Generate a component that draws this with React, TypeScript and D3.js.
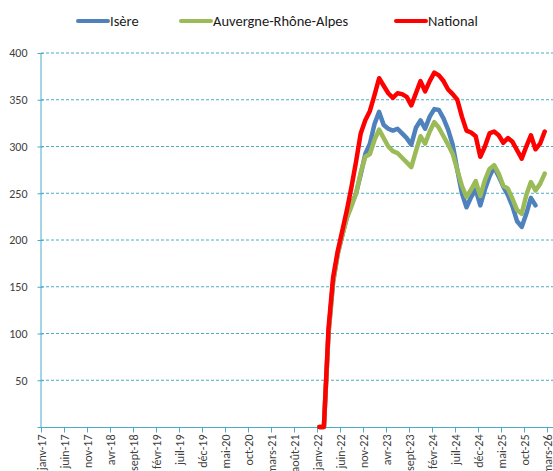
import * as d3 from "d3";
import { useEffect, useRef } from "react";

// tick labels on the x axis, one every 5 months from janv-17
const tickLabels = [
  "janv-17", "juin-17", "nov-17", "avr-18", "sept-18", "févr-19", "juil-19",
  "déc-19", "mai-20", "oct-20", "mars-21", "août-21", "janv-22", "juin-22",
  "nov-22", "avr-23", "sept-23", "févr-24", "juil-24", "déc-24", "mai-25",
  "oct-25", "mars-26",
];
const yTicks = [50, 100, 150, 200, 250, 300, 350, 400];

// series start in janv-22 (month 60 counted from janv-17)
const firstMonth = 60;
const isere = [
  0, 0, 100, 155, 185, 205, 224, 238, 250, 270, 292, 303, 324, 337, 323, 319,
  317, 319, 314, 309, 302, 320, 328, 319, 332, 340, 339, 330, 318, 302, 275,
  250, 235, 246, 254, 237, 254, 268, 278, 268, 257, 248, 236, 220, 214, 228,
  245, 237,
];
const aura = [
  0, 0, 100, 155, 185, 205, 224, 236, 250, 272, 289, 292, 307, 318, 309, 300,
  295, 293, 288, 283, 278, 295, 311, 303, 316, 326, 320, 311, 302, 292, 275,
  258, 246, 254, 263, 247, 264, 276, 280, 271, 258, 255, 244, 232, 228, 248,
  262, 253, 260, 271,
];
const national = [
  0, 0, 105, 160, 188, 210, 232, 257, 284, 314, 328, 338, 355, 373, 365, 357,
  352, 357, 356, 353, 344, 357, 370, 359, 370, 379, 376, 370, 361, 356, 350,
  332, 317, 315, 311, 289, 300, 314, 316, 312, 304, 309, 305, 296, 287, 300,
  312, 297, 303, 316,
];

const series = [
  { name: "Isère", values: isere, color: "#4F81BD" },
  { name: "Auvergne-Rhône-Alpes", values: aura, color: "#9BBB59" },
  { name: "National", values: national, color: "#FF0000" },
];

const W = 553;
const H = 471;

const App = () => {
  const ref = useRef<SVGSVGElement>(null);

  useEffect(() => {
    const svg = d3.select(ref.current);
    svg.selectAll("*").remove();

    const font = "Carlito, Calibri, 'Liberation Sans', sans-serif";
    const teal = "#4BACC6";

    const x = d3.scaleLinear().domain([0, 111]).range([41, 551.6]);
    const y = d3.scaleLinear().domain([0, 400]).range([427, 53]);

    // grid
    svg
      .append("g")
      .selectAll("line")
      .data(yTicks)
      .join("line")
      .attr("x1", 41)
      .attr("x2", W)
      .attr("y1", (d) => y(d))
      .attr("y2", (d) => y(d))
      .attr("stroke", teal)
      .attr("stroke-width", 1)
      .attr("stroke-dasharray", "3 2");

    // y axis
    const yAxis = svg
      .append("g")
      .attr("transform", "translate(40.5,0)")
      .call(
        d3
          .axisLeft(y)
          .tickValues([0, ...yTicks])
          .tickSizeInner(3)
          .tickSizeOuter(0)
          .tickFormat((d) => (d === 0 ? "" : String(d)))
      );
    yAxis.select(".domain").attr("stroke", teal);
    yAxis.selectAll(".tick line").attr("stroke", teal).attr("x2", 3).attr("x1", -3);
    yAxis
      .selectAll(".tick text")
      .attr("x", -13)
      .attr("fill", "#404040")
      .style("font-family", font)
      .style("font-size", "12px");

    // x axis
    const xAxis = svg
      .append("g")
      .attr("transform", "translate(0,427.5)")
      .call(
        d3
          .axisBottom(x)
          .tickValues(tickLabels.map((_, i) => i * 5))
          .tickSizeInner(5)
          .tickSizeOuter(0)
          .tickFormat((d, i) => tickLabels[i])
      );
    xAxis.select(".domain").attr("stroke", teal).attr("d", `M41,0H${W}`);
    xAxis.selectAll(".tick line").attr("stroke", teal);
    xAxis
      .selectAll(".tick text")
      .attr("transform", "rotate(-90)")
      .attr("x", -7)
      .attr("y", 0)
      .attr("dy", "0.35em")
      .attr("text-anchor", "end")
      .attr("fill", "#404040")
      .style("font-family", font)
      .style("font-size", "12px");

    // lines
    const line = d3
      .line<number>()
      .x((_, i) => x(firstMonth + i + 0.5))
      .y((d) => y(d));

    svg
      .append("g")
      .selectAll("path")
      .data(series)
      .join("path")
      .attr("d", (s) => line(s.values))
      .attr("fill", "none")
      .attr("stroke", (s) => s.color)
      .attr("stroke-width", 4.5)
      .attr("stroke-linejoin", "round")
      .attr("stroke-linecap", "round");

    // legend
    const legendX = [78, 181, 396];
    const legend = svg
      .append("g")
      .selectAll("g")
      .data(series)
      .join("g")
      .attr("transform", (_, i) => `translate(${legendX[i]},21)`);
    legend
      .append("line")
      .attr("x1", 0)
      .attr("x2", 30)
      .attr("stroke", (s) => s.color)
      .attr("stroke-width", 4)
      .attr("stroke-linecap", "round");
    legend
      .append("text")
      .attr("x", 32)
      .attr("dy", "0.35em")
      .attr("fill", "#1a1a1a")
      .style("font-family", font)
      .style("font-size", "14.5px")
      .text((s) => s.name);
  }, []);

  return (
    <svg
      ref={ref}
      width={W}
      height={H}
      style={{ position: "absolute", left: 0, top: 0, background: "#fff" }}
    />
  );
};

export default App;
